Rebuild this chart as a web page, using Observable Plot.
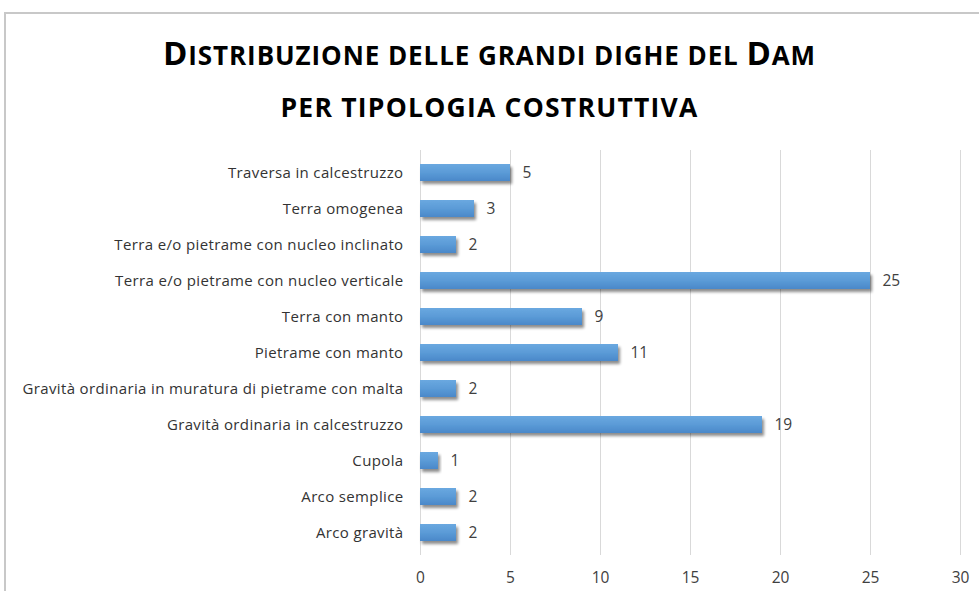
<!DOCTYPE html>
<html><head><meta charset="utf-8">
<script src="https://cdn.jsdelivr.net/npm/d3@7"></script>
<script src="https://cdn.jsdelivr.net/npm/@observablehq/plot@0.6"></script>
<style>
html,body{margin:0;padding:0;background:#fff;}
#frame{position:absolute;left:4px;top:12px;width:990px;height:600px;border-left:2px solid #c8c8c8;border-top:2px solid #c8c8c8;}
.t{position:absolute;left:0;width:979px;text-align:center;font-family:"Open Sans",Lato,sans-serif;font-weight:bold;color:#000;white-space:nowrap;text-transform:uppercase;}
.t > span{display:inline-block;}
.b{font-size:33px;}
.s{font-size:26px;}
#t1{top:33px;line-height:40px;}
#t2{top:87px;line-height:40px;}
#t2 .s{font-size:26.5px;}
#chart{position:absolute;left:0;top:140px;}
</style></head>
<body>
<div id="frame"></div>
<div class="t" id="t1"><span><span class="b">D</span><span class="s">istribuzione delle grandi dighe del </span><span class="b">D</span><span class="s">am</span></span></div>
<div class="t" id="t2"><span><span class="s">per tipologia costruttiva</span></span></div>
<div id="chart"></div>
<script>
const categories = [
  "Traversa in calcestruzzo",
  "Terra omogenea",
  "Terra e/o pietrame con nucleo inclinato",
  "Terra e/o pietrame con nucleo verticale",
  "Terra con manto",
  "Pietrame con manto",
  "Gravità ordinaria in muratura di pietrame con malta",
  "Gravità ordinaria in calcestruzzo",
  "Cupola",
  "Arco semplice",
  "Arco gravità"
];
const values = [5, 3, 2, 25, 9, 11, 2, 19, 1, 2, 2];
const xTicks = [0, 5, 10, 15, 20, 25, 30];

const data = categories.map((c, i) => ({category: c, value: values[i]}));

const plot = Plot.plot({
  width: 979,
  height: 451,
  marginLeft: 420,
  marginRight: 19,
  marginTop: 10,
  marginBottom: 36,
  style: {fontFamily: "'Open Sans', Lato, sans-serif", fontSize: "15px", color: "#404040", background: "transparent"},
  x: {domain: [0, 30], ticks: xTicks, label: null, grid: false},
  y: {domain: categories, label: null, paddingInner: 0.52, paddingOuter: 0.26, insetTop: 2.8, insetBottom: 1.8},
  marks: [
    Plot.ruleX(xTicks, {stroke: "#d9d9d9", strokeWidth: 1}),
    Plot.axisX({ticks: xTicks, tickSize: 0, tickPadding: 16, fontSize: 15.5, fill: "#404040", label: null}),
    Plot.axisY({tickSize: 0, tickPadding: 17, fontSize: 15, fill: "#333333", label: null}),
    Plot.barX(data, {x: "value", y: "category", fill: "url(#barGrad)"}),
    Plot.text(data, {x: "value", y: "category", text: d => String(d.value), textAnchor: "start", dx: 12, fontSize: 15.5, fill: "#404040"})
  ]
});

const svgNS = "http://www.w3.org/2000/svg";
const defs = document.createElementNS(svgNS, "defs");
defs.innerHTML = `
<linearGradient id="barGrad" x1="0" y1="0" x2="0" y2="1">
  <stop offset="0" stop-color="#6aa8e0"/>
  <stop offset="0.5" stop-color="#5b9bd7"/>
  <stop offset="1" stop-color="#4a88c9"/>
</linearGradient>
<filter id="barShadow" x="-10%" y="-30%" width="130%" height="180%">
  <feGaussianBlur in="SourceAlpha" stdDeviation="1.8"/>
  <feOffset dx="1.5" dy="2.5" result="ob"/>
  <feComponentTransfer><feFuncA type="linear" slope="0.45"/></feComponentTransfer>
  <feMerge><feMergeNode/><feMergeNode in="SourceGraphic"/></feMerge>
</filter>`;
plot.insertBefore(defs, plot.firstChild);
plot.querySelectorAll("rect").forEach(r => {
  if ((r.getAttribute("fill") || r.parentNode.getAttribute("fill") || "").includes("barGrad")) r.setAttribute("filter", "url(#barShadow)");
});
document.getElementById("chart").appendChild(plot);

// fit the category labels' width to the reference (longest label ≈ 381px)
const yTexts = Array.from(plot.querySelectorAll("g[aria-label='y-axis tick label'] text"));
if (yTexts.length) {
  let longest = yTexts.reduce((a, b) => (a.getComputedTextLength() > b.getComputedTextLength() ? a : b));
  const w = longest.getComputedTextLength();
  const n = longest.textContent.length;
  const ls = Math.max(-1, Math.min(2, (381 - w) / n));
  yTexts.forEach(t => t.setAttribute("letter-spacing", ls.toFixed(2)));
}
// fit title widths
function fit(id, target) {
  const s = document.querySelector("#" + id + " > span");
  const w = s.getBoundingClientRect().width;
  const n = s.textContent.length;
  const ls = Math.max(-2, Math.min(3, (target - w) / n));
  s.style.letterSpacing = ls.toFixed(2) + "px";
}
fit("t1", 653);
fit("t2", 418);
</script>
</body></html>
